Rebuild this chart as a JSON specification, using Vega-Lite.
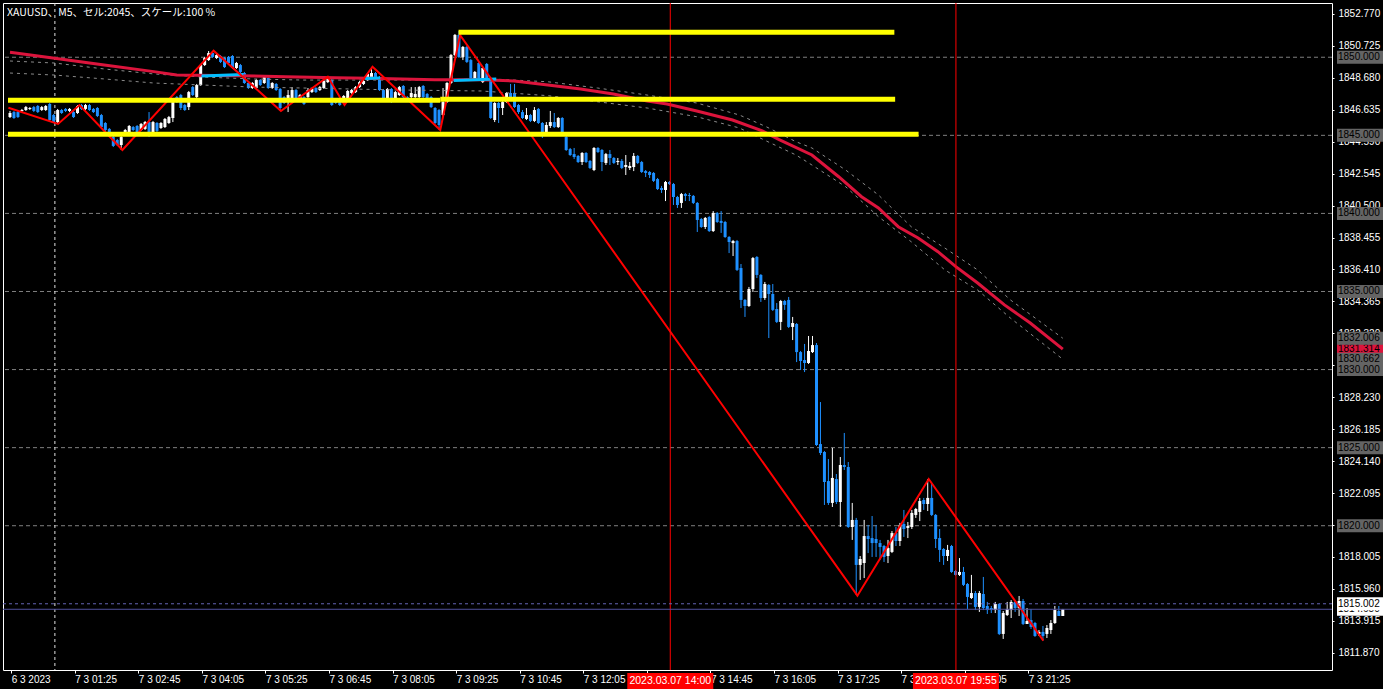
{
"$schema": "https://vega.github.io/schema/vega-lite/v6.json",
"width": 1329, "height": 667,
"autosize": {"type": "none"},
"padding": {"left": 3, "top": 3, "right": 51, "bottom": 19},
"background": "#000000",
"title": {"text": "XAUUSD、M5、セル:2045、スケール:100 %", "anchor": "start", "frame": "group", "offset": -16, "dx": 4, "font": "Noto Sans CJK JP", "fontSize": 10.5, "fontWeight": "normal", "color": "#ffffff"},
"config": {"view": {"stroke": "#ffffff", "strokeWidth": 1}, "axis": {"titleOpacity": 0, "labelOverlap": false, "labelBound": false, "labelFlush": false, "grid": false, "domain": false, "labelColor": "#ffffff", "tickColor": "#ffffff", "labelFont": "Liberation Sans", "labelFontSize": 10}},
"datasets": {
"candles": [
{"i":0,"o":1846.17,"h":1846.56,"l":1846.11,"c":1846.43},{"i":1,"o":1846.49,"h":1846.56,"l":1846.05,"c":1846.11},{"i":2,"o":1846.49,"h":1846.56,"l":1846.11,"c":1846.17},{"i":3,"o":1846.56,"h":1846.69,"l":1846.49,"c":1846.62},{"i":4,"o":1846.62,"h":1846.88,"l":1846.56,"c":1846.81},{"i":5,"o":1846.69,"h":1846.81,"l":1846.62,"c":1846.75},{"i":6,"o":1846.81,"h":1846.88,"l":1846.49,"c":1846.56},{"i":7,"o":1846.88,"h":1846.94,"l":1846.43,"c":1846.49},{"i":8,"o":1846.62,"h":1846.88,"l":1846.56,"c":1846.81},{"i":9,"o":1846.62,"h":1846.94,"l":1846.56,"c":1846.88},
{"i":10,"o":1847.01,"h":1847.07,"l":1845.92,"c":1845.98},{"i":11,"o":1846.30,"h":1846.37,"l":1845.79,"c":1845.85},{"i":12,"o":1845.85,"h":1846.69,"l":1845.79,"c":1846.62},{"i":13,"o":1846.62,"h":1846.69,"l":1846.37,"c":1846.43},{"i":14,"o":1846.69,"h":1846.75,"l":1846.49,"c":1846.56},{"i":15,"o":1846.56,"h":1846.75,"l":1846.49,"c":1846.69},{"i":16,"o":1846.49,"h":1846.56,"l":1846.11,"c":1846.17},{"i":17,"o":1846.43,"h":1846.94,"l":1846.37,"c":1846.88},{"i":18,"o":1846.94,"h":1847.01,"l":1846.62,"c":1846.69},{"i":19,"o":1846.69,"h":1847.01,"l":1846.62,"c":1846.94},
{"i":20,"o":1846.94,"h":1847.01,"l":1846.56,"c":1846.62},{"i":21,"o":1846.69,"h":1846.75,"l":1846.43,"c":1846.49},{"i":22,"o":1846.75,"h":1846.81,"l":1846.17,"c":1846.24},{"i":23,"o":1846.30,"h":1846.37,"l":1845.47,"c":1845.53},{"i":24,"o":1845.79,"h":1845.85,"l":1845.21,"c":1845.34},{"i":25,"o":1845.41,"h":1845.47,"l":1845.02,"c":1845.15},{"i":26,"o":1844.89,"h":1845.02,"l":1844.25,"c":1844.32},{"i":27,"o":1844.70,"h":1844.77,"l":1844.32,"c":1844.38},{"i":28,"o":1844.38,"h":1844.96,"l":1844.06,"c":1844.89},{"i":29,"o":1845.15,"h":1845.41,"l":1845.09,"c":1845.34},
{"i":30,"o":1845.21,"h":1845.66,"l":1845.15,"c":1845.60},{"i":31,"o":1845.53,"h":1845.60,"l":1845.28,"c":1845.34},{"i":32,"o":1845.60,"h":1845.66,"l":1845.15,"c":1845.21},{"i":33,"o":1845.34,"h":1845.79,"l":1845.28,"c":1845.73},{"i":34,"o":1845.41,"h":1845.92,"l":1845.34,"c":1845.85},{"i":35,"o":1845.85,"h":1846.49,"l":1844.89,"c":1845.09},{"i":36,"o":1845.21,"h":1845.92,"l":1845.15,"c":1845.85},{"i":37,"o":1845.79,"h":1845.85,"l":1845.21,"c":1845.28},{"i":38,"o":1845.47,"h":1845.85,"l":1845.41,"c":1845.79},{"i":39,"o":1845.53,"h":1846.11,"l":1845.47,"c":1846.05},
{"i":40,"o":1845.79,"h":1846.24,"l":1845.73,"c":1846.17},{"i":41,"o":1846.11,"h":1847.20,"l":1845.85,"c":1847.13},{"i":42,"o":1847.45,"h":1847.52,"l":1847.07,"c":1847.13},{"i":43,"o":1847.58,"h":1847.65,"l":1846.62,"c":1846.75},{"i":44,"o":1846.94,"h":1847.01,"l":1846.56,"c":1846.62},{"i":45,"o":1846.81,"h":1847.84,"l":1846.62,"c":1847.77},{"i":46,"o":1848.09,"h":1848.16,"l":1847.52,"c":1847.58},{"i":47,"o":1847.45,"h":1848.29,"l":1847.39,"c":1848.22},{"i":48,"o":1848.22,"h":1849.57,"l":1848.16,"c":1849.50},{"i":49,"o":1849.50,"h":1850.02,"l":1849.44,"c":1849.95},
{"i":50,"o":1849.82,"h":1850.40,"l":1849.76,"c":1850.27},{"i":51,"o":1850.27,"h":1850.34,"l":1849.95,"c":1850.02},{"i":52,"o":1849.95,"h":1850.21,"l":1849.89,"c":1850.14},{"i":53,"o":1850.08,"h":1850.14,"l":1849.63,"c":1849.70},{"i":54,"o":1849.95,"h":1850.02,"l":1849.31,"c":1849.37},{"i":55,"o":1850.02,"h":1850.08,"l":1849.57,"c":1849.63},{"i":56,"o":1850.08,"h":1850.14,"l":1849.25,"c":1849.31},{"i":57,"o":1849.31,"h":1849.70,"l":1849.25,"c":1849.63},{"i":58,"o":1849.50,"h":1849.57,"l":1848.99,"c":1849.06},{"i":59,"o":1848.99,"h":1849.06,"l":1848.29,"c":1848.35},
{"i":60,"o":1848.35,"h":1848.41,"l":1847.97,"c":1848.03},{"i":61,"o":1848.03,"h":1848.41,"l":1847.97,"c":1848.35},{"i":62,"o":1848.03,"h":1848.61,"l":1847.97,"c":1848.54},{"i":63,"o":1848.54,"h":1848.61,"l":1848.16,"c":1848.22},{"i":64,"o":1848.35,"h":1848.80,"l":1848.29,"c":1848.73},{"i":65,"o":1848.67,"h":1848.73,"l":1847.97,"c":1848.03},{"i":66,"o":1848.03,"h":1848.41,"l":1847.97,"c":1848.35},{"i":67,"o":1848.29,"h":1848.35,"l":1847.84,"c":1847.90},{"i":68,"o":1847.97,"h":1848.03,"l":1846.56,"c":1846.75},{"i":69,"o":1847.45,"h":1847.52,"l":1847.01,"c":1847.07},
{"i":70,"o":1847.26,"h":1847.90,"l":1846.49,"c":1847.58},{"i":71,"o":1847.39,"h":1848.09,"l":1847.33,"c":1847.90},{"i":72,"o":1847.90,"h":1847.97,"l":1847.33,"c":1847.39},{"i":73,"o":1847.39,"h":1847.65,"l":1847.33,"c":1847.58},{"i":74,"o":1847.45,"h":1847.52,"l":1846.94,"c":1847.01},{"i":75,"o":1847.45,"h":1848.03,"l":1847.39,"c":1847.90},{"i":76,"o":1847.77,"h":1848.03,"l":1847.71,"c":1847.97},{"i":77,"o":1848.03,"h":1848.09,"l":1847.71,"c":1847.77},{"i":78,"o":1847.90,"h":1848.16,"l":1847.84,"c":1848.09},{"i":79,"o":1848.03,"h":1848.54,"l":1847.97,"c":1848.48},
{"i":80,"o":1848.41,"h":1848.73,"l":1848.35,"c":1848.67},{"i":81,"o":1848.54,"h":1848.61,"l":1846.88,"c":1846.94},{"i":82,"o":1847.26,"h":1847.33,"l":1847.01,"c":1847.07},{"i":83,"o":1847.13,"h":1847.20,"l":1846.88,"c":1846.94},{"i":84,"o":1847.13,"h":1847.58,"l":1847.07,"c":1847.52},{"i":85,"o":1847.39,"h":1847.90,"l":1847.33,"c":1847.84},{"i":86,"o":1847.71,"h":1847.97,"l":1847.65,"c":1847.90},{"i":87,"o":1847.77,"h":1848.16,"l":1847.71,"c":1848.09},{"i":88,"o":1848.09,"h":1848.48,"l":1848.03,"c":1848.41},{"i":89,"o":1848.29,"h":1848.54,"l":1848.22,"c":1848.48},
{"i":90,"o":1848.54,"h":1848.99,"l":1848.48,"c":1848.93},{"i":91,"o":1848.73,"h":1849.37,"l":1848.67,"c":1848.99},{"i":92,"o":1848.99,"h":1849.06,"l":1848.61,"c":1848.67},{"i":93,"o":1848.73,"h":1848.80,"l":1847.84,"c":1847.90},{"i":94,"o":1847.90,"h":1847.97,"l":1847.33,"c":1847.39},{"i":95,"o":1847.39,"h":1848.03,"l":1847.26,"c":1847.97},{"i":96,"o":1847.97,"h":1848.03,"l":1847.07,"c":1847.39},{"i":97,"o":1847.39,"h":1847.84,"l":1847.33,"c":1847.77},{"i":98,"o":1847.58,"h":1848.16,"l":1847.52,"c":1848.09},{"i":99,"o":1848.16,"h":1848.22,"l":1847.39,"c":1847.45},
{"i":100,"o":1847.45,"h":1847.52,"l":1847.33,"c":1847.39},{"i":101,"o":1847.45,"h":1848.09,"l":1847.39,"c":1847.71},{"i":102,"o":1847.45,"h":1848.09,"l":1847.39,"c":1847.65},{"i":103,"o":1847.45,"h":1848.16,"l":1847.39,"c":1848.09},{"i":104,"o":1848.16,"h":1848.22,"l":1847.39,"c":1847.45},{"i":105,"o":1847.65,"h":1847.71,"l":1847.33,"c":1847.39},{"i":106,"o":1847.45,"h":1847.52,"l":1846.75,"c":1846.81},{"i":107,"o":1846.75,"h":1846.81,"l":1845.73,"c":1845.79},{"i":108,"o":1846.62,"h":1846.69,"l":1845.34,"c":1845.66},{"i":109,"o":1846.30,"h":1848.03,"l":1846.24,"c":1847.13},
{"i":110,"o":1847.13,"h":1848.41,"l":1847.07,"c":1848.35},{"i":111,"o":1848.35,"h":1850.21,"l":1848.29,"c":1850.14},{"i":112,"o":1850.14,"h":1851.49,"l":1850.08,"c":1851.43},{"i":113,"o":1851.43,"h":1851.68,"l":1849.95,"c":1850.02},{"i":114,"o":1850.02,"h":1850.72,"l":1849.82,"c":1850.66},{"i":115,"o":1850.66,"h":1850.72,"l":1849.63,"c":1849.70},{"i":116,"o":1849.82,"h":1849.89,"l":1848.61,"c":1848.67},{"i":117,"o":1848.54,"h":1849.12,"l":1848.48,"c":1849.06},{"i":118,"o":1849.63,"h":1849.70,"l":1848.61,"c":1848.67},{"i":119,"o":1848.41,"h":1849.37,"l":1848.35,"c":1849.31},
{"i":120,"o":1849.57,"h":1849.63,"l":1848.48,"c":1848.54},{"i":121,"o":1848.54,"h":1848.61,"l":1846.05,"c":1846.11},{"i":122,"o":1845.98,"h":1847.13,"l":1845.85,"c":1847.07},{"i":123,"o":1847.07,"h":1847.13,"l":1845.79,"c":1846.75},{"i":124,"o":1846.75,"h":1847.20,"l":1846.30,"c":1847.13},{"i":125,"o":1847.13,"h":1847.77,"l":1847.07,"c":1847.71},{"i":126,"o":1847.71,"h":1848.29,"l":1847.39,"c":1847.45},{"i":127,"o":1847.71,"h":1848.29,"l":1846.75,"c":1846.81},{"i":128,"o":1846.94,"h":1847.01,"l":1846.37,"c":1846.49},{"i":129,"o":1846.49,"h":1846.62,"l":1846.05,"c":1846.11},
{"i":130,"o":1846.05,"h":1846.75,"l":1845.98,"c":1846.30},{"i":131,"o":1846.30,"h":1846.37,"l":1845.85,"c":1845.92},{"i":132,"o":1845.92,"h":1846.81,"l":1845.85,"c":1846.62},{"i":133,"o":1846.69,"h":1846.75,"l":1845.73,"c":1845.79},{"i":134,"o":1845.79,"h":1845.85,"l":1844.83,"c":1845.21},{"i":135,"o":1845.21,"h":1845.85,"l":1845.09,"c":1845.66},{"i":136,"o":1845.60,"h":1846.56,"l":1845.47,"c":1845.85},{"i":137,"o":1845.85,"h":1846.43,"l":1845.47,"c":1845.53},{"i":138,"o":1845.53,"h":1846.17,"l":1845.47,"c":1846.11},{"i":139,"o":1846.11,"h":1846.17,"l":1845.15,"c":1845.21},
{"i":140,"o":1844.89,"h":1844.96,"l":1844.00,"c":1844.06},{"i":141,"o":1844.12,"h":1844.19,"l":1843.68,"c":1843.74},{"i":142,"o":1843.80,"h":1844.19,"l":1843.48,"c":1843.61},{"i":143,"o":1843.68,"h":1843.74,"l":1843.23,"c":1843.29},{"i":144,"o":1843.29,"h":1843.93,"l":1843.10,"c":1843.87},{"i":145,"o":1843.87,"h":1843.93,"l":1843.23,"c":1843.29},{"i":146,"o":1843.36,"h":1843.42,"l":1842.84,"c":1842.91},{"i":147,"o":1842.78,"h":1844.25,"l":1842.71,"c":1844.19},{"i":148,"o":1844.19,"h":1844.25,"l":1843.87,"c":1843.93},{"i":149,"o":1844.06,"h":1844.12,"l":1842.71,"c":1843.29},
{"i":150,"o":1843.23,"h":1843.87,"l":1843.10,"c":1843.80},{"i":151,"o":1843.80,"h":1844.06,"l":1843.10,"c":1843.55},{"i":152,"o":1843.55,"h":1843.61,"l":1843.16,"c":1843.23},{"i":153,"o":1843.29,"h":1843.55,"l":1843.10,"c":1843.36},{"i":154,"o":1843.36,"h":1843.48,"l":1842.84,"c":1842.91},{"i":155,"o":1842.97,"h":1843.74,"l":1842.46,"c":1843.10},{"i":156,"o":1842.91,"h":1843.29,"l":1842.78,"c":1843.04},{"i":157,"o":1842.97,"h":1843.87,"l":1842.71,"c":1843.68},{"i":158,"o":1843.68,"h":1843.74,"l":1843.16,"c":1843.23},{"i":159,"o":1843.29,"h":1843.36,"l":1842.59,"c":1842.65},
{"i":160,"o":1842.71,"h":1842.78,"l":1842.33,"c":1842.59},{"i":161,"o":1842.65,"h":1842.71,"l":1842.27,"c":1842.46},{"i":162,"o":1842.59,"h":1842.65,"l":1842.01,"c":1842.08},{"i":163,"o":1842.20,"h":1842.27,"l":1841.50,"c":1841.56},{"i":164,"o":1841.63,"h":1841.76,"l":1841.31,"c":1841.50},{"i":165,"o":1841.50,"h":1842.08,"l":1840.79,"c":1842.01},{"i":166,"o":1842.01,"h":1842.08,"l":1841.82,"c":1841.88},{"i":167,"o":1841.88,"h":1841.95,"l":1840.54,"c":1841.05},{"i":168,"o":1841.05,"h":1841.12,"l":1840.35,"c":1840.54},{"i":169,"o":1840.67,"h":1841.31,"l":1840.35,"c":1841.24},
{"i":170,"o":1841.24,"h":1841.31,"l":1840.79,"c":1841.12},{"i":171,"o":1841.18,"h":1841.31,"l":1840.79,"c":1841.12},{"i":172,"o":1841.12,"h":1841.18,"l":1840.60,"c":1840.67},{"i":173,"o":1840.67,"h":1840.73,"l":1838.81,"c":1839.58},{"i":174,"o":1839.64,"h":1839.71,"l":1839.07,"c":1839.13},{"i":175,"o":1839.13,"h":1839.77,"l":1839.00,"c":1839.71},{"i":176,"o":1839.77,"h":1839.84,"l":1838.81,"c":1838.87},{"i":177,"o":1838.87,"h":1840.15,"l":1838.81,"c":1840.03},{"i":178,"o":1840.03,"h":1840.09,"l":1839.39,"c":1839.45},{"i":179,"o":1839.52,"h":1840.15,"l":1838.75,"c":1839.39},
{"i":180,"o":1839.45,"h":1839.52,"l":1838.43,"c":1838.49},{"i":181,"o":1838.49,"h":1838.55,"l":1837.46,"c":1838.17},{"i":182,"o":1838.10,"h":1838.30,"l":1837.27,"c":1838.23},{"i":183,"o":1838.23,"h":1838.30,"l":1836.31,"c":1836.38},{"i":184,"o":1836.50,"h":1836.76,"l":1833.94,"c":1834.46},{"i":185,"o":1834.46,"h":1834.52,"l":1833.37,"c":1834.07},{"i":186,"o":1834.07,"h":1835.29,"l":1834.01,"c":1835.16},{"i":187,"o":1835.16,"h":1837.21,"l":1834.97,"c":1837.14},{"i":188,"o":1837.21,"h":1837.27,"l":1835.86,"c":1836.06},{"i":189,"o":1836.06,"h":1836.12,"l":1834.33,"c":1834.58},
{"i":190,"o":1834.58,"h":1835.61,"l":1834.46,"c":1835.48},{"i":191,"o":1835.42,"h":1835.48,"l":1832.02,"c":1834.84},{"i":192,"o":1834.84,"h":1835.48,"l":1833.75,"c":1833.82},{"i":193,"o":1833.88,"h":1834.26,"l":1832.98,"c":1833.05},{"i":194,"o":1833.05,"h":1834.46,"l":1832.53,"c":1834.39},{"i":195,"o":1834.39,"h":1834.46,"l":1833.82,"c":1834.14},{"i":196,"o":1834.46,"h":1834.65,"l":1832.66,"c":1832.73},{"i":197,"o":1832.73,"h":1833.37,"l":1831.89,"c":1832.98},{"i":198,"o":1832.92,"h":1832.98,"l":1830.48,"c":1831.12},{"i":199,"o":1831.12,"h":1831.19,"l":1829.97,"c":1830.55},
{"i":200,"o":1830.61,"h":1831.64,"l":1829.84,"c":1830.42},{"i":201,"o":1830.42,"h":1832.15,"l":1830.36,"c":1831.19},{"i":202,"o":1831.12,"h":1832.15,"l":1831.06,"c":1831.57},{"i":203,"o":1831.57,"h":1831.70,"l":1825.11,"c":1825.17},{"i":204,"o":1825.23,"h":1827.92,"l":1824.53,"c":1824.66},{"i":205,"o":1824.72,"h":1824.79,"l":1821.33,"c":1822.80},{"i":206,"o":1822.86,"h":1824.27,"l":1821.33,"c":1821.46},{"i":207,"o":1821.46,"h":1824.98,"l":1821.20,"c":1823.06},{"i":208,"o":1822.99,"h":1823.31,"l":1821.39,"c":1821.52},{"i":209,"o":1821.52,"h":1824.40,"l":1819.92,"c":1823.89},
{"i":210,"o":1823.89,"h":1825.94,"l":1823.57,"c":1823.76},{"i":211,"o":1823.76,"h":1824.08,"l":1819.86,"c":1819.92},{"i":212,"o":1819.92,"h":1821.46,"l":1819.09,"c":1820.37},{"i":213,"o":1820.37,"h":1820.50,"l":1815.56,"c":1817.49},{"i":214,"o":1817.49,"h":1818.06,"l":1816.53,"c":1817.87},{"i":215,"o":1817.61,"h":1820.37,"l":1816.65,"c":1819.34},{"i":216,"o":1819.34,"h":1820.05,"l":1818.25,"c":1819.15},{"i":217,"o":1819.21,"h":1820.62,"l":1818.00,"c":1818.89},{"i":218,"o":1819.15,"h":1820.05,"l":1818.00,"c":1818.89},{"i":219,"o":1818.89,"h":1819.09,"l":1817.81,"c":1818.64},
{"i":220,"o":1818.70,"h":1818.77,"l":1817.68,"c":1818.00},{"i":221,"o":1818.06,"h":1819.09,"l":1817.61,"c":1818.57},{"i":222,"o":1818.32,"h":1819.66,"l":1818.25,"c":1819.53},{"i":223,"o":1819.53,"h":1819.92,"l":1818.70,"c":1819.02},{"i":224,"o":1819.02,"h":1820.18,"l":1818.70,"c":1820.05},{"i":225,"o":1820.11,"h":1821.01,"l":1819.28,"c":1819.79},{"i":226,"o":1819.86,"h":1820.24,"l":1819.21,"c":1819.98},{"i":227,"o":1819.92,"h":1821.01,"l":1819.79,"c":1820.82},{"i":228,"o":1820.69,"h":1821.14,"l":1820.50,"c":1821.07},{"i":229,"o":1820.88,"h":1821.78,"l":1820.30,"c":1821.58},
{"i":230,"o":1821.65,"h":1821.78,"l":1821.01,"c":1821.39},{"i":231,"o":1821.39,"h":1822.99,"l":1820.94,"c":1821.78},{"i":232,"o":1821.78,"h":1822.67,"l":1820.62,"c":1820.69},{"i":233,"o":1820.69,"h":1820.75,"l":1818.57,"c":1819.15},{"i":234,"o":1819.21,"h":1819.79,"l":1817.68,"c":1818.45},{"i":235,"o":1818.51,"h":1818.57,"l":1817.49,"c":1818.06},{"i":236,"o":1818.06,"h":1818.77,"l":1817.74,"c":1818.45},{"i":237,"o":1818.70,"h":1818.77,"l":1816.98,"c":1817.04},{"i":238,"o":1817.10,"h":1817.17,"l":1816.80,"c":1816.85},{"i":239,"o":1816.85,"h":1817.93,"l":1816.78,"c":1817.04},
{"i":240,"o":1817.04,"h":1817.36,"l":1816.14,"c":1816.21},{"i":241,"o":1816.27,"h":1816.33,"l":1814.67,"c":1815.44},{"i":242,"o":1815.37,"h":1816.85,"l":1815.31,"c":1815.69},{"i":243,"o":1815.69,"h":1815.82,"l":1814.60,"c":1814.80},{"i":244,"o":1814.80,"h":1815.82,"l":1814.48,"c":1815.69},{"i":245,"o":1815.63,"h":1816.72,"l":1814.60,"c":1814.73},{"i":246,"o":1814.86,"h":1815.12,"l":1814.35,"c":1814.60},{"i":247,"o":1814.73,"h":1814.86,"l":1814.41,"c":1814.60},{"i":248,"o":1814.60,"h":1815.12,"l":1814.41,"c":1814.99},{"i":249,"o":1814.99,"h":1815.05,"l":1813.00,"c":1813.07},
{"i":250,"o":1813.07,"h":1814.54,"l":1812.75,"c":1814.41},{"i":251,"o":1814.28,"h":1815.12,"l":1814.22,"c":1814.67},{"i":252,"o":1814.60,"h":1815.24,"l":1814.09,"c":1815.12},{"i":253,"o":1815.12,"h":1815.24,"l":1814.48,"c":1814.73},{"i":254,"o":1814.73,"h":1815.50,"l":1814.22,"c":1815.18},{"i":255,"o":1815.18,"h":1815.31,"l":1813.64,"c":1813.71},{"i":256,"o":1813.71,"h":1814.73,"l":1813.71,"c":1813.90},{"i":257,"o":1813.96,"h":1814.67,"l":1813.39,"c":1813.52},{"i":258,"o":1813.77,"h":1813.84,"l":1812.88,"c":1812.94},{"i":259,"o":1813.07,"h":1813.32,"l":1812.94,"c":1813.20},
{"i":260,"o":1813.20,"h":1813.58,"l":1812.64,"c":1812.94},{"i":261,"o":1813.07,"h":1813.64,"l":1812.81,"c":1813.45},{"i":262,"o":1813.32,"h":1813.96,"l":1813.07,"c":1813.77},{"i":263,"o":1813.77,"h":1814.86,"l":1813.71,"c":1814.60},{"i":264,"o":1814.54,"h":1814.86,"l":1814.22,"c":1814.22},{"i":265,"o":1814.22,"h":1814.67,"l":1814.22,"c":1814.65}
],
"maRed": [
{"i":0,"p":1850.32},{"i":11.24,"p":1849.93},{"i":23.73,"p":1849.50},{"i":36.22,"p":1849.08},{"i":41.97,"p":1848.86},{"i":56.96,"p":1848.82},{"i":69.45,"p":1848.75},{"i":81.94,"p":1848.69},{"i":90.43,"p":1848.65},{"i":106.92,"p":1848.56},{"i":118.66,"p":1848.56},{"i":126.9,"p":1848.48},{"i":135.4,"p":1848.22},{"i":143.64,"p":1847.97},{"i":151.89,"p":1847.65},{"i":160.38,"p":1847.20},{"i":165.38,"p":1847.01},{"i":172.87,"p":1846.56},{"i":181.86,"p":1845.98},{"i":189.36,"p":1845.28},{"i":193.6,"p":1844.73},{"i":201.85,"p":1843.74},{"i":208.59,"p":1842.35},{"i":214.34,"p":1841.07},{"i":218.59,"p":1840.35},{"i":223.58,"p":1839.15},{"i":228.58,"p":1838.43},{"i":233.57,"p":1837.55},{"i":238.07,"p":1836.59},{"i":243.57,"p":1835.54},{"i":250.31,"p":1834.14},{"i":256.81,"p":1832.98},{"i":265,"p":1831.314}
],
"maUp": [
{"i":0,"p":1849.76},{"i":11.24,"p":1849.63},{"i":23.73,"p":1849.25},{"i":36.22,"p":1848.93},{"i":48.71,"p":1848.73},{"i":61.2,"p":1848.61},{"i":73.69,"p":1848.54},{"i":98.68,"p":1848.54},{"i":121.16,"p":1848.61},{"i":135.4,"p":1848.43},{"i":147.89,"p":1848.03},{"i":160.38,"p":1847.58},{"i":172.87,"p":1847.07},{"i":183.61,"p":1846.30},{"i":190.36,"p":1845.55},{"i":197.85,"p":1844.59},{"i":201.85,"p":1844.19},{"i":210.34,"p":1842.78},{"i":218.59,"p":1841.18},{"i":226.83,"p":1839.15},{"i":235.32,"p":1837.78},{"i":243.57,"p":1836.38},{"i":251.81,"p":1834.46},{"i":265,"p":1832.006}
],
"maLow": [
{"i":0,"p":1848.99},{"i":11.24,"p":1848.86},{"i":23.73,"p":1848.61},{"i":36.22,"p":1848.35},{"i":48.71,"p":1848.22},{"i":61.2,"p":1848.09},{"i":73.69,"p":1848.03},{"i":98.68,"p":1847.90},{"i":118.66,"p":1847.84},{"i":135.4,"p":1847.54},{"i":147.89,"p":1847.15},{"i":160.38,"p":1846.75},{"i":172.87,"p":1846.19},{"i":183.61,"p":1845.47},{"i":190.36,"p":1844.64},{"i":197.85,"p":1843.74},{"i":201.85,"p":1843.10},{"i":210.34,"p":1841.71},{"i":218.59,"p":1839.79},{"i":226.83,"p":1838.19},{"i":235.32,"p":1836.38},{"i":243.57,"p":1835.09},{"i":251.81,"p":1833.30},{"i":265,"p":1830.662}
],
"cyan": [
{"s":"a","i":48.2,"p":1848.80},{"s":"a","i":58.7,"p":1848.89},{"s":"b","i":89.4,"p":1848.64},{"s":"b","i":93.2,"p":1848.67},{"s":"c","i":111.7,"p":1848.51},{"s":"c","i":122.4,"p":1848.61}
],
"zigzag": [
{"i":-0.4,"p":1846.77},{"i":12.1,"p":1845.73},{"i":17.5,"p":1846.94},{"i":28.3,"p":1844.06},{"i":51.25,"p":1850.42},{"i":68.2,"p":1846.56},{"i":80,"p":1848.75},{"i":84.2,"p":1846.94},{"i":91.25,"p":1849.39},{"i":108.3,"p":1845.34},{"i":113.3,"p":1851.42},{"i":213.3,"p":1815.52},{"i":231.25,"p":1822.99},{"i":260.1,"p":1812.64}
],
"yellow": [
{"a":112.9,"b":222.6,"p":1851.60},{"a":-0.5,"b":108.3,"p":1847.24},{"a":108.3,"b":222.8,"p":1847.31},{"a":-0.5,"b":228.7,"p":1845.07}
],
"vlines": [
{"i":11.3,"k":"day"},{"i":166.2,"k":"red","t":"2023.03.07 14:00"},{"i":238.1,"k":"red","t":"2023.03.07 19:55"}
],
"levels": [
{"p":1850},{"p":1845},{"p":1840},{"p":1835},{"p":1830},{"p":1825},{"p":1820}
],
"plines": [
{"p":1815.002,"k":"dash"},{"p":1814.65,"k":"solid"}
],
"tags": [
{"p":1831.314,"k":"red","z":1},{"p":1814.65,"k":"white","z":1},
{"p":1850,"k":"gray","z":2},{"p":1845,"k":"gray","z":2},{"p":1840,"k":"gray","z":2},{"p":1835,"k":"gray","z":2},{"p":1832.006,"k":"gray","z":2},{"p":1830.662,"k":"gray","z":2},{"p":1825,"k":"gray","z":2},{"p":1820,"k":"gray","z":2},
{"p":1830,"k":"gray","z":3},{"p":1815.002,"k":"white","z":3}
]
},
"layer": [
{"data": {"name": "levels"},
 "mark": {"type": "rule", "stroke": "#7f7f7f", "strokeWidth": 1, "strokeDash": [4, 3]},
 "encoding": {"y": {"field": "p", "type": "quantitative", "title": null, "scale": {"domain": [1810.761, 1853.474], "nice": false, "zero": false}}}},
{"data": {"name": "vlines"}, "transform": [{"filter": "datum.k == 'day'"}],
 "mark": {"type": "rule", "stroke": "#e0e0e0", "strokeWidth": 1, "strokeDash": [3, 3]},
 "encoding": {"x": {"field": "i", "type": "quantitative", "title": null, "scale": {"domain": [-0.5, 331.5], "nice": false, "zero": false}}}},
{"data": {"name": "candles"},
 "mark": {"type": "rule", "strokeWidth": 1},
 "encoding": {
  "x": {"field": "i", "type": "quantitative", "title": null, "scale": {"domain": [-0.5, 331.5], "nice": false, "zero": false},
   "axis": {"title": null, "orient": "bottom", "values": [0.3,16.3,32.3,48.3,64.3,80.3,96.3,112.3,128.3,144.3,160.3,176.3,192.3,208.3,224.3,240.3,256.3], "tickCount": 40,
    "labelExpr": "['6 3 2023','7 3 01:25','7 3 02:45','7 3 04:05','7 3 05:25','7 3 06:45','7 3 08:05','7 3 09:25','7 3 10:45','7 3 12:05','7 3 13:25','7 3 14:45','7 3 16:05','7 3 17:25','7 3 18:45','7 3 20:05','7 3 21:25'][round((datum.value - 0.3) / 16)]",
    "labelAlign": "left", "labelBaseline": "top", "labelPadding": 1, "tickSize": 3, "labelOverlap": false, "labelFlush": false, "labelBound": false}},
  "y": {"field": "h", "type": "quantitative", "title": null, "scale": {"domain": [1810.761, 1853.474], "nice": false, "zero": false},
   "axis": {"title": null, "orient": "right", "values": [1852.77,1850.725,1848.68,1846.635,1844.59,1842.545,1840.5,1838.455,1836.41,1834.365,1832.32,1830.275,1828.23,1826.185,1824.14,1822.095,1820.05,1818.005,1815.96,1813.915,1811.87], "tickCount": 40,
    "format": ".3f", "tickSize": 2, "labelPadding": 4, "labelOverlap": false, "labelFlush": false, "labelBound": false, "labelBaseline": "middle"}},
  "y2": {"field": "l"},
  "color": {"condition": {"test": "datum.c >= datum.o", "value": "#ffffff"}, "value": "#1E90FF"}}},
{"data": {"name": "candles"},
 "mark": {"type": "bar", "width": 3},
 "encoding": {
  "x": {"field": "i", "type": "quantitative", "title": null, "scale": {"domain": [-0.5, 331.5], "nice": false, "zero": false}},
  "y": {"field": "o", "type": "quantitative", "title": null, "scale": {"domain": [1810.761, 1853.474], "nice": false, "zero": false}},
  "y2": {"field": "c"},
  "color": {"condition": {"test": "datum.c >= datum.o", "value": "#ffffff"}, "value": "#1E90FF"}}},
{"data": {"name": "maUp"},
 "mark": {"type": "line", "stroke": "#8a8a8a", "strokeWidth": 1, "strokeDash": [3, 4]},
 "encoding": {"x": {"field": "i", "type": "quantitative", "title": null, "scale": {"domain": [-0.5, 331.5], "nice": false, "zero": false}},
  "y": {"field": "p", "type": "quantitative", "title": null, "scale": {"domain": [1810.761, 1853.474], "nice": false, "zero": false}}}},
{"data": {"name": "maLow"},
 "mark": {"type": "line", "stroke": "#8a8a8a", "strokeWidth": 1, "strokeDash": [3, 4]},
 "encoding": {"x": {"field": "i", "type": "quantitative", "title": null, "scale": {"domain": [-0.5, 331.5], "nice": false, "zero": false}},
  "y": {"field": "p", "type": "quantitative", "title": null, "scale": {"domain": [1810.761, 1853.474], "nice": false, "zero": false}}}},
{"data": {"name": "maRed"},
 "mark": {"type": "line", "stroke": "#DC143C", "strokeWidth": 3},
 "encoding": {"x": {"field": "i", "type": "quantitative", "title": null, "scale": {"domain": [-0.5, 331.5], "nice": false, "zero": false}},
  "y": {"field": "p", "type": "quantitative", "title": null, "scale": {"domain": [1810.761, 1853.474], "nice": false, "zero": false}}}},
{"data": {"name": "cyan"},
 "mark": {"type": "line", "stroke": "#00BFFF", "strokeWidth": 3},
 "encoding": {"x": {"field": "i", "type": "quantitative", "title": null, "scale": {"domain": [-0.5, 331.5], "nice": false, "zero": false}},
  "y": {"field": "p", "type": "quantitative", "title": null, "scale": {"domain": [1810.761, 1853.474], "nice": false, "zero": false}},
  "detail": {"field": "s", "type": "nominal"}}},
{"data": {"name": "zigzag"},
 "mark": {"type": "line", "stroke": "#FF0000", "strokeWidth": 2},
 "encoding": {"x": {"field": "i", "type": "quantitative", "title": null, "scale": {"domain": [-0.5, 331.5], "nice": false, "zero": false}},
  "y": {"field": "p", "type": "quantitative", "title": null, "scale": {"domain": [1810.761, 1853.474], "nice": false, "zero": false}}}},
{"data": {"name": "vlines"}, "transform": [{"filter": "datum.k == 'red'"}],
 "mark": {"type": "rule", "stroke": "#FF0000", "strokeWidth": 1},
 "encoding": {"x": {"field": "i", "type": "quantitative", "title": null, "scale": {"domain": [-0.5, 331.5], "nice": false, "zero": false}}}},
{"data": {"name": "plines"},
 "mark": {"type": "rule", "strokeWidth": 1},
 "encoding": {"y": {"field": "p", "type": "quantitative", "title": null, "scale": {"domain": [1810.761, 1853.474], "nice": false, "zero": false}},
  "stroke": {"condition": {"test": "datum.k == 'dash'", "value": "#6464b4"}, "value": "#50509a"},
  "strokeDash": {"condition": {"test": "datum.k == 'dash'", "value": [3, 3]}, "value": [1, 0]}}},
{"data": {"name": "yellow"},
 "mark": {"type": "rule", "stroke": "#FFFF00", "strokeWidth": 5},
 "encoding": {"x": {"field": "a", "type": "quantitative", "title": null, "scale": {"domain": [-0.5, 331.5], "nice": false, "zero": false}},
  "x2": {"field": "b"},
  "y": {"field": "p", "type": "quantitative", "title": null, "scale": {"domain": [1810.761, 1853.474], "nice": false, "zero": false}}}},
{"data": {"name": "vlines"}, "transform": [{"filter": "datum.k == 'red'"}],
 "mark": {"type": "rule", "stroke": "#FF0000", "strokeWidth": 16, "xOffset": -43, "x2Offset": 43, "yOffset": 11},
 "encoding": {"x": {"field": "i", "type": "quantitative", "title": null, "scale": {"domain": [-0.5, 331.5], "nice": false, "zero": false}},
  "x2": {"field": "i"},
  "y": {"value": "height"}}},
{"data": {"name": "vlines"}, "transform": [{"filter": "datum.k == 'red'"}],
 "mark": {"type": "text", "color": "#ffffff", "font": "Liberation Sans", "fontSize": 10.5, "align": "center", "baseline": "middle", "yOffset": 11},
 "encoding": {"x": {"field": "i", "type": "quantitative", "title": null, "scale": {"domain": [-0.5, 331.5], "nice": false, "zero": false}},
  "y": {"value": "height"},
  "text": {"field": "t"}}},
{"data": {"name": "tags"}, "transform": [{"filter": "datum.z == 1"}],
 "mark": {"type": "rule", "strokeWidth": 13, "xOffset": 5, "x2Offset": 51},
 "encoding": {"x": {"value": "width"}, "x2": {"value": "width"},
  "y": {"field": "p", "type": "quantitative", "title": null, "scale": {"domain": [1810.761, 1853.474], "nice": false, "zero": false}},
  "color": {"field": "k", "type": "nominal", "scale": {"domain": ["gray", "red", "white"], "range": ["#646464", "#DC143C", "#ffffff"]}, "legend": null}}},
{"data": {"name": "tags"}, "transform": [{"filter": "datum.z == 1"}],
 "mark": {"type": "text", "align": "left", "baseline": "middle", "dx": 6, "font": "Liberation Sans", "fontSize": 10, "color": "#000000"},
 "encoding": {"x": {"value": "width"},
  "y": {"field": "p", "type": "quantitative", "title": null, "scale": {"domain": [1810.761, 1853.474], "nice": false, "zero": false}},
  "text": {"field": "p", "type": "quantitative", "format": ".3f"}}},
{"data": {"name": "tags"}, "transform": [{"filter": "datum.z == 2"}],
 "mark": {"type": "rule", "strokeWidth": 13, "xOffset": 5, "x2Offset": 51},
 "encoding": {"x": {"value": "width"}, "x2": {"value": "width"},
  "y": {"field": "p", "type": "quantitative", "title": null, "scale": {"domain": [1810.761, 1853.474], "nice": false, "zero": false}},
  "color": {"field": "k", "type": "nominal", "scale": {"domain": ["gray", "red", "white"], "range": ["#646464", "#DC143C", "#ffffff"]}, "legend": null}}},
{"data": {"name": "tags"}, "transform": [{"filter": "datum.z == 2"}],
 "mark": {"type": "text", "align": "left", "baseline": "middle", "dx": 6, "font": "Liberation Sans", "fontSize": 10, "color": "#000000"},
 "encoding": {"x": {"value": "width"},
  "y": {"field": "p", "type": "quantitative", "title": null, "scale": {"domain": [1810.761, 1853.474], "nice": false, "zero": false}},
  "text": {"field": "p", "type": "quantitative", "format": ".3f"}}},
{"data": {"name": "tags"}, "transform": [{"filter": "datum.z == 3"}],
 "mark": {"type": "rule", "strokeWidth": 13, "xOffset": 5, "x2Offset": 51},
 "encoding": {"x": {"value": "width"}, "x2": {"value": "width"},
  "y": {"field": "p", "type": "quantitative", "title": null, "scale": {"domain": [1810.761, 1853.474], "nice": false, "zero": false}},
  "color": {"field": "k", "type": "nominal", "scale": {"domain": ["gray", "red", "white"], "range": ["#646464", "#DC143C", "#ffffff"]}, "legend": null}}},
{"data": {"name": "tags"}, "transform": [{"filter": "datum.z == 3"}],
 "mark": {"type": "text", "align": "left", "baseline": "middle", "dx": 6, "font": "Liberation Sans", "fontSize": 10, "color": "#000000"},
 "encoding": {"x": {"value": "width"},
  "y": {"field": "p", "type": "quantitative", "title": null, "scale": {"domain": [1810.761, 1853.474], "nice": false, "zero": false}},
  "text": {"field": "p", "type": "quantitative", "format": ".3f"}}}
]
}
